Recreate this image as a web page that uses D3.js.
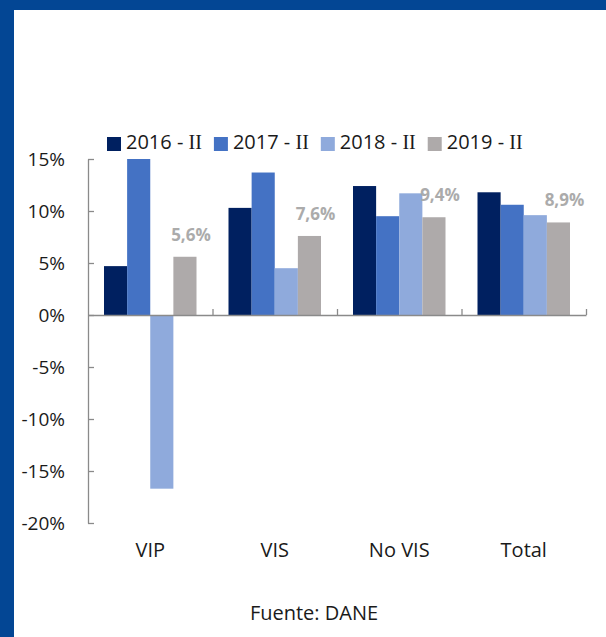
<!DOCTYPE html>
<html>
<head>
<meta charset="utf-8">
<script src="https://cdn.jsdelivr.net/npm/d3@7"></script>
<style>
  html, body { margin: 0; padding: 0; background: #fff; }
  svg { display: block; font-family: "Open Sans", "Noto Sans", sans-serif; }
</style>
</head>
<body>
<svg id="chart" width="606" height="637"></svg>
<script>
const categories = ["VIP", "VIS", "No VIS", "Total"];
const seriesNames = ["2016 - ", "2017 - ", "2018 - ", "2019 - "];
const seriesSuffix = "II";
const v2016 = [4.7, 10.3, 12.4, 11.8];
const v2017 = [15.0, 13.7, 9.5, 10.6];
const v2018 = [-16.7, 4.5, 11.7, 9.6];
const v2019 = [5.6, 7.6, 9.4, 8.9];
const labelValues = ["5,6%", "7,6%", "9,4%", "8,9%"];
const yTicks = [15, 10, 5, 0, -5, -10, -15, -20];
const colors = ["#002060", "#4472C4", "#8FAADC", "#AEAAAA"];
const source = "Fuente: DANE";

const series = [v2016, v2017, v2018, v2019];
const svg = d3.select("#chart");

// frame
svg.append("rect").attr("x", 0).attr("y", 0).attr("width", 606).attr("height", 637).attr("fill", "#fff");
svg.append("rect").attr("x", 0).attr("y", 0).attr("width", 606).attr("height", 10).attr("fill", "#034694");
svg.append("rect").attr("x", 0).attr("y", 0).attr("width", 14).attr("height", 637).attr("fill", "#034694");

const plotLeft = 88, plotRight = 586, plotTop = 159, plotBottom = 523;
const y = d3.scaleLinear().domain([-20, 15]).range([plotBottom, plotTop]);
const x = d3.scaleBand().domain(categories).range([plotLeft, plotRight]).padding(0);
const x1 = d3.scaleBand().domain(d3.range(series.length)).range([16, x.bandwidth() - 16]).padding(0);

// bars
series.forEach((vals, si) => {
  svg.append("g").selectAll("rect").data(vals).join("rect")
    .attr("x", (d, i) => x(categories[i]) + x1(si))
    .attr("width", x1.bandwidth())
    .attr("y", d => y(Math.max(0, d)))
    .attr("height", d => Math.abs(y(d) - y(0)))
    .attr("fill", colors[si]);
});

const axisColor = "#8a8a8a";
// y axis
const yAxis = svg.append("g").attr("transform", `translate(${plotLeft},0)`)
  .call(d3.axisLeft(y).tickValues(yTicks).tickSizeInner(-6).tickSizeOuter(0).tickPadding(23)
    .tickFormat(d => d + "%"));
yAxis.select(".domain").attr("stroke", axisColor).attr("stroke-width", 1.3);
yAxis.selectAll(".tick line").attr("stroke", axisColor).attr("stroke-width", 1.3);
yAxis.selectAll(".tick text").attr("font-size", 19).attr("fill", "#1a1a1a")
  .attr("font-family", "'Open Sans', sans-serif");

// x axis on zero line with boundary ticks pointing up
const xb = d3.scaleLinear().domain([0, categories.length]).range([plotLeft, plotRight]);
const xAxis = svg.append("g").attr("transform", `translate(0,${y(0)})`)
  .call(d3.axisBottom(xb).tickValues(d3.range(1, categories.length + 1)).tickSizeInner(-6).tickSizeOuter(0).tickFormat(""));
xAxis.select(".domain").attr("stroke", axisColor).attr("stroke-width", 1.3);
xAxis.selectAll(".tick line").attr("stroke", axisColor).attr("stroke-width", 1.3);

// category labels
svg.append("g").selectAll("text").data(categories).join("text")
  .attr("x", d => x(d) + x.bandwidth() / 2)
  .attr("y", 557)
  .attr("text-anchor", "middle")
  .attr("font-size", 20)
  .attr("fill", "#1a1a1a")
  .text(d => d);

// data labels on 2019 series
svg.append("g").selectAll("text").data(v2019).join("text")
  .attr("x", (d, i) => x(categories[i]) + x1(3) + x1.bandwidth() / 2 + 6)
  .attr("y", d => y(d) - 16)
  .attr("text-anchor", "middle")
  .attr("font-size", 17)
  .attr("font-weight", "bold")
  .attr("fill", "#ABABAB")
  .text((d, i) => labelValues[i]);

// legend
let lx = 107;
seriesNames.forEach((name, i) => {
  const g = svg.append("g");
  g.append("rect").attr("x", lx).attr("y", 137).attr("width", 14).attr("height", 14).attr("fill", colors[i]);
  const t = g.append("text").attr("x", lx + 19).attr("y", 149).attr("font-size", 20).attr("fill", "#1a1a1a");
  t.append("tspan").text(name);
  t.append("tspan").attr("font-family", "'Liberation Serif', 'DejaVu Serif', serif").text(seriesSuffix);
  lx += 19 + t.node().getComputedTextLength() + 12;
});

// source
svg.append("text").attr("x", 314).attr("y", 620).attr("text-anchor", "middle")
  .attr("font-size", 20).attr("fill", "#1a1a1a").text(source);
</script>
</body>
</html>
